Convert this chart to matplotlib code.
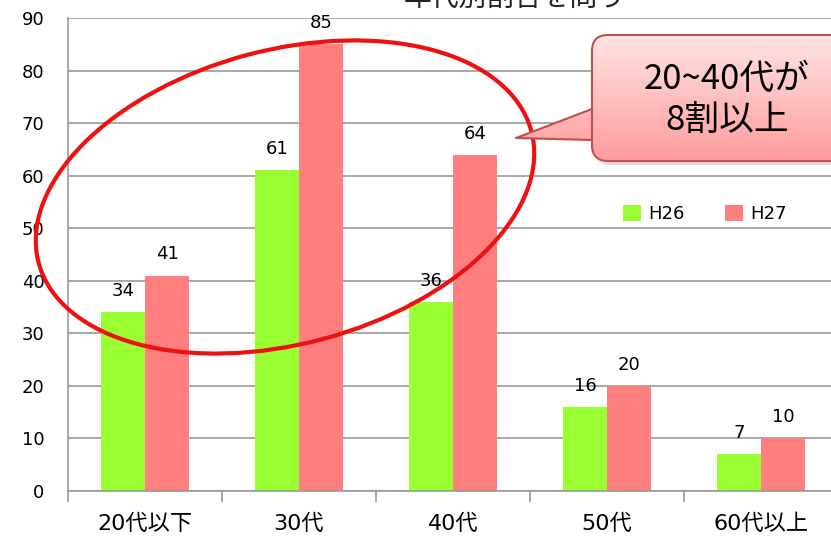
import numpy as np
import matplotlib
matplotlib.use("Agg")
import matplotlib.pyplot as plt
from matplotlib.patches import Ellipse, FancyBboxPatch, Polygon
from matplotlib.transforms import IdentityTransform, Bbox
from matplotlib.image import BboxImage

plt.rcParams['font.family'] = ['Noto Sans CJK JP', 'DejaVu Sans']

categories = ["20代以下", "30代", "40代", "50代", "60代以上"]
h26 = [34, 61, 36, 16, 7]
h27 = [41, 85, 64, 20, 10]
series_names = ["H26", "H27"]
callout_text = "20~40代が\n8割以上"
title_text = "年代別割合を問う"

W, H = 831, 540
fig = plt.figure(figsize=(W / 100, H / 100), dpi=100)
ax = fig.add_axes([68 / W, 49 / H, 770 / W, 473 / H])

green = "#99FF33"
pink = "#FF7F7F"
x = np.arange(len(categories))
bw = 0.286
b1 = ax.bar(x - bw / 2, h26, bw, color=green, label=series_names[0], zorder=3)
b2 = ax.bar(x + bw / 2, h27, bw, color=pink, label=series_names[1], zorder=3)
for bars, vals in ((b1, h26), (b2, h27)):
    for b, v in zip(bars, vals):
        ax.text(b.get_x() + b.get_width() / 2, v + 2.3, str(v), ha="center",
                va="bottom", fontsize=13, family="DejaVu Sans")

ax.set_xlim(-0.5, 4.5)
ax.set_ylim(0, 90)
ax.set_yticks(range(0, 91, 10))
ax.yaxis.grid(True, color="#999999", linewidth=1.2, zorder=0)
ax.set_xticks(x)
ax.set_xticklabels(categories, fontsize=16, family=['DejaVu Sans', 'Noto Sans CJK JP'])
ax.set_xticks(np.arange(-0.5, 4.6, 1), minor=True)
ax.tick_params(axis="x", which="major", length=0, pad=16)
ax.tick_params(axis="x", which="minor", length=8, color="#999999", width=1.2)
ax.tick_params(axis="y", length=0, pad=17, labelsize=13)
for lab in ax.get_yticklabels():
    lab.set_family("DejaVu Sans")
for s in ("top", "right"):
    ax.spines[s].set_visible(False)
for s in ("left", "bottom"):
    ax.spines[s].set_color("#999999")
    ax.spines[s].set_linewidth(1.2)
ax.spines["bottom"].set_zorder(4)

leg = ax.legend(loc="upper left", bbox_to_anchor=(0.7, 0.64), ncol=2, frameon=False,
                fontsize=13, handlelength=1.0, handleheight=1.0, columnspacing=2.2,
                handletextpad=0.4)
for t in leg.get_texts():
    t.set_family("DejaVu Sans")

# partially visible title at top edge
fig.text(515 / W, 1 - 6 / H, title_text, ha="center", va="baseline",
         fontsize=20, color="#222222")

# red ellipse (display pixel coords)
idt = IdentityTransform()
ell = Ellipse((285, H - 197), 510, 294, angle=15, fill=False, edgecolor="#EE1111",
              linewidth=3, transform=idt, zorder=10)
fig.add_artist(ell)

# callout box with gradient
top, bot, left, right = H - 35, H - 161, 592, 880
grad = np.linspace(0, 1, 256).reshape(-1, 1)
cmap = matplotlib.colors.LinearSegmentedColormap.from_list("g", ["#FFE4E4", "#FF9C9C"])
shadow = FancyBboxPatch((left + 3, bot - 4), right - left, top - bot,
                        boxstyle="round,pad=0,rounding_size=16", transform=idt,
                        facecolor="#BBBBBB", edgecolor="none", alpha=0.5, zorder=10.5)
fig.add_artist(shadow)
box = FancyBboxPatch((left, bot), right - left, top - bot,
                     boxstyle="round,pad=0,rounding_size=16", transform=idt,
                     facecolor="none", edgecolor="#C0504D", linewidth=1.5, zorder=12)
tri = Polygon([(left + 2, H - 109), (516, H - 138), (left + 2, H - 140)], closed=True,
              transform=idt, facecolor="none", edgecolor="none", zorder=12)
fig.add_artist(box)
fig.add_artist(tri)
for patch in (box, tri):
    bi = BboxImage(Bbox([[left - 80, bot], [right, top]]), cmap=cmap, zorder=11.5,
                   origin="upper")
    bi.set_data(grad)
    bi.set_clip_path(patch)
    fig.add_artist(bi)
fig.add_artist(plt.Line2D([left, 516, left], [H - 109, H - 138, H - 140],
                          color="#C0504D", linewidth=1.5, transform=idt, zorder=12.5))
fig.text(727 / W, 1 - 100 / H, callout_text, ha="center", va="center", fontsize=25,
         linespacing=1.2, zorder=13)

fig.savefig("out.png", dpi=100)
